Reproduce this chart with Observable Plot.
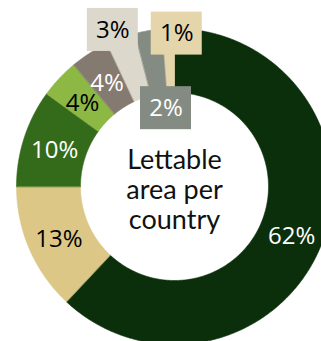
<!DOCTYPE html>
<html>
<head>
<meta charset="utf-8">
<script src="https://cdn.jsdelivr.net/npm/d3@7"></script>
<script src="https://cdn.jsdelivr.net/npm/@observablehq/plot@0.6"></script>
<style>
  html, body { margin: 0; padding: 0; background: #fff; }
  #chart svg { display: block; }
</style>
</head>
<body>
<div id="chart"></div>
<script>
// ---- data ----
const labels = ["62%", "13%", "10%", "4%", "4%", "3%", "2%", "1%"];
const values = [62, 13, 10, 4, 4, 3, 2.8, 1.2];
const colors = ["#0c2f0b", "#dcc787", "#336b1a", "#8cb843", "#857a70", "#dcd8cc", "#848b82", "#e5d5aa"];
const textColors = ["white", "black", "white", "black", "white", "black", "white", "black"];
const centerTitle = "Lettable\narea per\ncountry";

// ---- layout ----
const W = 321, H = 341;
const cx = 174, cy = 186, k = 158;      // pixel center and pixels per unit radius
const rOuter = 1, rInner = 94 / 158;
// callout offsets in px (only for boxed labels)
const callout = {5: [-19, -38], 6: [12, 46], 7: [7, -27]};
const boxW = 51, boxH = 43;

const keys = labels.map((_, i) => "s" + i);
const pie = d3.pie().sort(null).value(d => d)(values);

// polygon points for each arc (angle clockwise from 12 o'clock)
const arcPts = [];
pie.forEach((p, i) => {
  const n = Math.max(4, Math.ceil((p.endAngle - p.startAngle) / 0.01));
  const pts = [];
  for (let j = 0; j <= n; j++) {
    const a = p.startAngle + (p.endAngle - p.startAngle) * j / n;
    pts.push({key: keys[i], x: rOuter * Math.sin(a), y: rOuter * Math.cos(a)});
  }
  for (let j = n; j >= 0; j--) {
    const a = p.startAngle + (p.endAngle - p.startAngle) * j / n;
    pts.push({key: keys[i], x: rInner * Math.sin(a), y: rInner * Math.cos(a)});
  }
  arcPts.push(...pts);
});

const rMid = (rOuter + rInner) / 2;
const labelData = pie.map((p, i) => {
  const a = (p.startAngle + p.endAngle) / 2;
  const off = callout[i] || [0, 3];
  return {
    key: keys[i],
    label: labels[i],
    tc: textColors[i],
    boxed: !!callout[i],
    x: rMid * Math.sin(a) + off[0] / k,
    y: rMid * Math.cos(a) - off[1] / k
  };
});
const boxes = labelData.filter(d => d.boxed);

const plot = Plot.plot({
  width: W,
  height: H,
  margin: 0,
  x: {domain: [-cx / k, (W - cx) / k], range: [0, W], axis: null},
  y: {domain: [-(H - cy) / k, cy / k], range: [H, 0], axis: null},
  color: {type: "ordinal", domain: keys, range: colors},
  style: {background: "white"},
  marks: [
    Plot.line(arcPts, {x: "x", y: "y", z: "key", fill: "key", stroke: "key", strokeWidth: 0.6, curve: "linear-closed"}),
    Plot.rect(boxes, {
      x1: d => d.x - boxW / 2 / k, x2: d => d.x + boxW / 2 / k,
      y1: d => d.y - boxH / 2 / k, y2: d => d.y + boxH / 2 / k,
      fill: "key"
    }),
    Plot.text(labelData.filter(d => d.tc === "white"), {x: "x", y: "y", text: "label", fill: "white", fontSize: 24, fontFamily: "Open Sans"}),
    Plot.text(labelData.filter(d => d.tc === "black"), {x: "x", y: "y", text: "label", fill: "black", fontSize: 24, fontFamily: "Open Sans"}),
    Plot.text([centerTitle], {x: () => 0, y: () => 0, text: d => d, dy: 3, fontSize: 27, lineHeight: 1.12, fontFamily: "Lato", fill: "#111"})
  ]
});
document.getElementById("chart").appendChild(plot);
</script>
</body>
</html>
